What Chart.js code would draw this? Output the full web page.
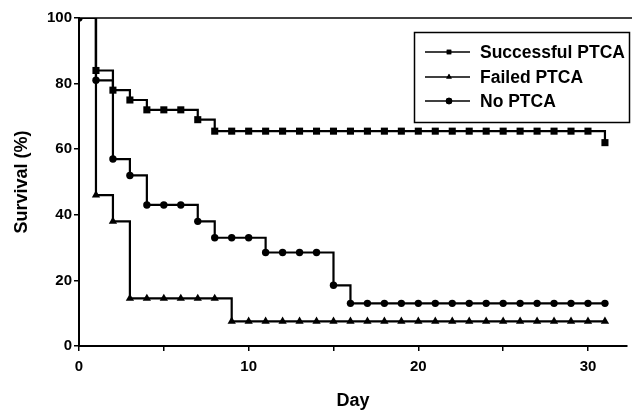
<!DOCTYPE html>
<html>
<head>
<meta charset="utf-8">
<script src="https://cdn.jsdelivr.net/npm/chart.js@4/dist/chart.umd.min.js"></script>
<style>
  html, body { margin: 0; padding: 0; background: #fff; }
  #wrap { width: 632px; height: 412px; }
</style>
</head>
<body>
<div id="wrap"><canvas id="GraficoSobrevida" width="632" height="412"></canvas></div>
<script>
var dias = [0, 1, 2, 3, 4, 5, 6, 7, 8, 9, 10, 11, 12, 13, 14, 15, 16, 17, 18, 19, 20, 21, 22, 23, 24, 25, 26, 27, 28, 29, 30, 31];
var sucesso = [100, 84, 78, 75, 72, 72, 72, 69, 65.5, 65.5, 65.5, 65.5, 65.5, 65.5, 65.5, 65.5, 65.5, 65.5, 65.5, 65.5, 65.5, 65.5, 65.5, 65.5, 65.5, 65.5, 65.5, 65.5, 65.5, 65.5, 65.5, 62];
var falha = [100, 46, 38, 14.5, 14.5, 14.5, 14.5, 14.5, 14.5, 7.5, 7.5, 7.5, 7.5, 7.5, 7.5, 7.5, 7.5, 7.5, 7.5, 7.5, 7.5, 7.5, 7.5, 7.5, 7.5, 7.5, 7.5, 7.5, 7.5, 7.5, 7.5, 7.5];
var semPtca = [100, 81, 57, 52, 43, 43, 43, 38, 33, 33, 33, 28.5, 28.5, 28.5, 28.5, 18.5, 13, 13, 13, 13, 13, 13, 13, 13, 13, 13, 13, 13, 13, 13, 13, 13];
var rotulos = ['Successful PTCA', 'Failed PTCA', 'No PTCA'];
var ticksY = [0, 20, 40, 60, 80, 100];

var fonte = "'Liberation Sans', Arial, sans-serif";

function pontos(valores) {
    return dias.map(function (d, i) { return { x: d, y: valores[i] }; });
}

function serie(label, valores, estilo, raio, raioInicio) {
    return {
        label: label,
        data: pontos(valores),
        showLine: true,
        stepped: true,
        borderColor: '#000',
        backgroundColor: '#000',
        borderWidth: 2.2,
        pointStyle: estilo,
        pointRadius: function (ctx) { return ctx.dataIndex === 0 ? raioInicio : raio; },
        pointBorderWidth: 0,
        pointHoverRadius: raio
    };
}

// legenda com moldura, dentro da area do grafico
var legendaCaixa = {
    id: 'legendaCaixa',
    afterDraw: function (chart) {
        var ctx = chart.ctx;
        var sets = chart.data.datasets;
        ctx.save();
        ctx.strokeStyle = '#000';
        ctx.lineWidth = 1.5;
        ctx.strokeRect(414.5, 32.5, 215, 90);
        ctx.font = 'bold 17.5px ' + fonte;
        ctx.textBaseline = 'middle';
        ctx.fillStyle = '#000';
        var linhas = [52, 77, 101];
        for (var i = 0; i < sets.length; i++) {
            var y = linhas[i];
            ctx.lineWidth = 1.5;
            ctx.beginPath();
            ctx.moveTo(425, y);
            ctx.lineTo(470, y);
            ctx.stroke();
            Chart.helpers.drawPoint(ctx, { pointStyle: sets[i].pointStyle, radius: 3.2, borderWidth: 0 }, 449, y);
            ctx.fill();
            ctx.fillText(sets[i].label, 480, y + 1);
        }
        // linha superior da moldura
        var a = chart.chartArea;
        ctx.lineWidth = 1.5;
        ctx.beginPath();
        ctx.moveTo(a.left, a.top);
        ctx.lineTo(chart.width, a.top);
        ctx.stroke();
        ctx.restore();
    }
};

new Chart(document.getElementById('GraficoSobrevida'), {
    type: 'scatter',
    data: {
        datasets: [
            serie(rotulos[0], sucesso, 'rect', 5, 0),
            serie(rotulos[1], falha, 'triangle', 4.8, 0),
            serie(rotulos[2], semPtca, 'circle', 3.7, 3.7)
        ]
    },
    options: {
        responsive: false,
        animation: false,
        layout: { padding: { top: 18, right: 2, left: 0, bottom: 0 } },
        plugins: {
            legend: { display: false },
            tooltip: { enabled: false }
        },
        scales: {
            x: {
                type: 'linear',
                min: 0,
                max: 32.3,
                afterFit: function (s) { s.height = 66; },
                border: { color: '#000', width: 2 },
                grid: { drawOnChartArea: false, color: '#000', tickLength: 5, lineWidth: 1.5 },
                ticks: {
                    stepSize: 5,
                    includeBounds: false,
                    color: '#000',
                    padding: 7,
                    font: { family: fonte, size: 15, weight: 'bold' },
                    callback: function (v) { return v % 10 === 0 ? v : ''; }
                },
                title: {
                    display: true,
                    text: 'Day',
                    color: '#000',
                    font: { family: fonte, size: 18, weight: 'bold' },
                    padding: { top: 0, bottom: 0 }
                }
            },
            y: {
                min: 0,
                max: 100,
                afterFit: function (s) { s.width = 79; },
                afterBuildTicks: function (s) { s.ticks = ticksY.map(function (v) { return { value: v }; }); },
                border: { color: '#000', width: 2 },
                grid: { drawOnChartArea: false, color: '#000', tickLength: 5, lineWidth: 1.5 },
                ticks: {
                    color: '#000',
                    padding: 2,
                    font: { family: fonte, size: 15, weight: 'bold' }
                },
                title: {
                    display: true,
                    text: 'Survival (%)',
                    color: '#000',
                    font: { family: fonte, size: 18, weight: 'bold' },
                    padding: { top: 11, bottom: 0 }
                }
            }
        }
    },
    plugins: [legendaCaixa]
});
</script>
</body>
</html>
